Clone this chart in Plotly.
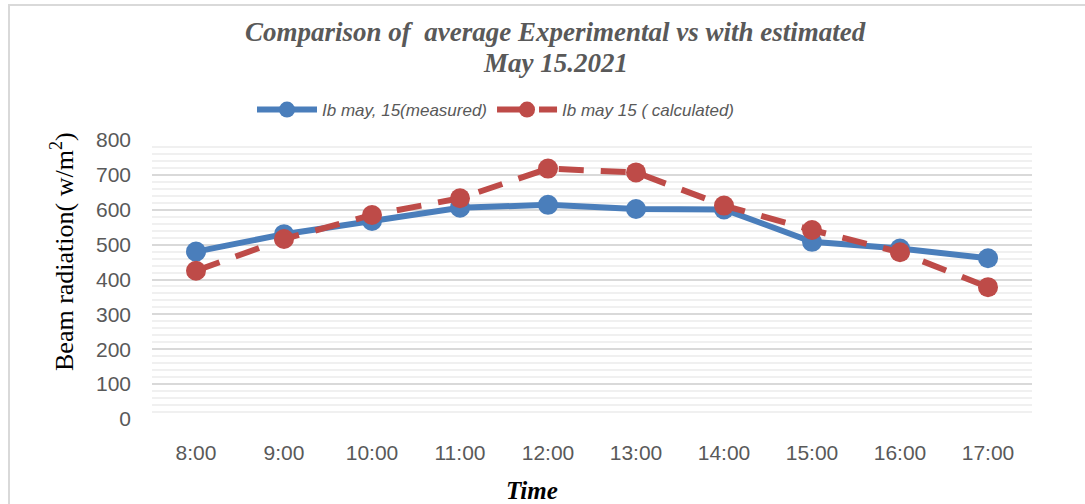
import plotly.graph_objects as go

times = ["8:00", "9:00", "10:00", "11:00", "12:00", "13:00", "14:00", "15:00", "16:00", "17:00"]
measured = [480, 530, 568, 606, 614, 602, 601, 508, 489, 461]
calculated = [425, 516, 585, 633, 718, 707, 612, 542, 478, 378]
y_ticks = [0, 100, 200, 300, 400, 500, 600, 700, 800]

L, R, T, B = 152, 1032, 140, 419
W, H = 1085, 504
pw, ph = R - L, B - T

def px(x):
    return (x - L) / pw

def py(y):
    return (B - y) / ph

fig = go.Figure()
fig.add_trace(go.Scatter(
    x=times, y=measured, mode="lines+markers",
    name="Ib may, 15(measured)",
    line=dict(color="#4a7ebb", width=6),
    marker=dict(color="#4a7ebb", size=20),
))
fig.add_trace(go.Scatter(
    x=times, y=calculated, mode="lines+markers",
    name="Ib may 15 ( calculated)",
    line=dict(color="#be4b48", width=6, dash="25px,17px"),
    marker=dict(color="#be4b48", size=20),
))

gray = "#595959"
fig.update_layout(
    width=W, height=H,
    margin=dict(l=L, r=W - R, t=T, b=H - B),
    plot_bgcolor="white", paper_bgcolor="white",
    showlegend=True,
    legend=dict(
        orientation="h", x=px(252), xanchor="left", y=py(110), yanchor="middle",
        font=dict(family="Liberation Sans", size=17, color=gray, style="italic"),
        itemwidth=60, bgcolor="rgba(0,0,0,0)",
    ),
    xaxis=dict(
        type="category", categoryorder="array", categoryarray=times,
        range=[-0.5, len(times) - 0.5],
        showgrid=False, zeroline=False, showline=False,
        tickfont=dict(family="Liberation Sans", size=21, color=gray),
        ticks="", ticklabelstandoff=19,
    ),
    yaxis=dict(
        range=[0, 800], tickvals=y_ticks,
        showgrid=True, gridcolor="#d9d9d9", gridwidth=2,
        zeroline=False, showline=False,
        minor=dict(dtick=20, showgrid=True, gridcolor="#f0f0f0", gridwidth=2),
        tickfont=dict(family="Liberation Sans", size=21, color=gray),
        ticks="", ticklabelstandoff=20,
    ),
    annotations=[
        dict(text="<b><i>Comparison of  average Experimental vs with estimated</i></b>",
             xref="paper", yref="paper", x=px(555), y=py(32), showarrow=False,
             xanchor="center", yanchor="middle",
             font=dict(family="Liberation Serif", size=27, color=gray)),
        dict(text="<b><i>May 15.2021</i></b>",
             xref="paper", yref="paper", x=px(555), y=py(63), showarrow=False,
             xanchor="center", yanchor="middle",
             font=dict(family="Liberation Serif", size=27, color=gray)),
        dict(text="<b><i>Time</i></b>",
             xref="paper", yref="paper", x=px(532), y=py(490), showarrow=False,
             xanchor="center", yanchor="middle",
             font=dict(family="Liberation Serif", size=25, color="black")),
        dict(text="Beam radiation( w/m<sup>2</sup>)",
             xref="paper", yref="paper", x=px(62), y=py(252), showarrow=False,
             xanchor="center", yanchor="middle", textangle=-90,
             font=dict(family="Liberation Serif", size=26, color="black")),
    ],
    shapes=[
        dict(type="rect", xref="paper", yref="paper",
             x0=px(9), x1=px(1100), y0=py(520), y1=py(5),
             line=dict(color="#d9d9d9", width=2), layer="below"),
    ],
)

fig.write_html("out.html")
